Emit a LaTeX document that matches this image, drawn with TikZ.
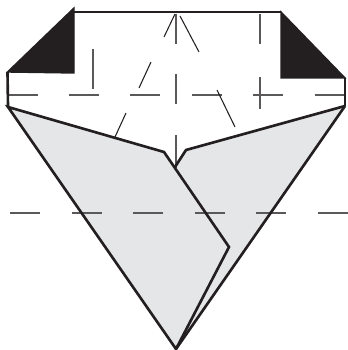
\documentclass[tikz,border=0pt]{standalone}
\usepackage{tikz}
\definecolor{ink}{RGB}{35,31,32}
\definecolor{paper}{RGB}{229,230,232}
\definecolor{crease}{RGB}{90,88,89}
\tikzset{
  edge/.style={draw=ink,line width=1.5pt,line join=miter},
  corner/.style={draw=ink,fill=ink,line width=0.8pt},
  fold/.style={draw=crease,line width=0.75pt},
  foldd/.style={draw=ink,line width=0.6pt}
}
\begin{document}
\begin{tikzpicture}[x=0.02cm,y=-0.02cm]
\useasboundingbox (0,0) rectangle (347,350);
\coordinate (tl) at (74,12);
\coordinate (tr) at (281,12);
\coordinate (ml) at (7.5,72);
\coordinate (mr) at (345,78);
\coordinate (bl) at (8,107);
\coordinate (br) at (345,106);
\coordinate (tip) at (176,349);
\coordinate (nl) at (164,152);
\coordinate (nr) at (186,150);
\coordinate (nc) at (175,167);
\coordinate (pk) at (229,247);
% horizontal creases
\foreach \x in {8,69,130,192,253,315} \draw[fold] (\x,95) -- ++(30,0);
% gray flaps
\fill[paper] (bl) -- (nl) -- (nc) -- (nr) -- (br) -- (tip) -- cycle;
\foreach \x in {10,72,133,195,256,318} \draw[fold] (\x,213) -- ++(30,0);
% vertical creases
\foreach \y in {14,74} \draw[fold] (176,\y) -- ++(0,30);
\draw[fold] (176,135) -- (176,168);
\draw[fold] (93,49) -- (93,89);
\draw[fold] (260,14) -- (260,44);
\draw[fold] (260,77) -- (260,109);
% slanted creases
\draw[foldd] (175,14) -- (164,37);
\draw[foldd] (151,62) -- (139,88);
\draw[foldd] (126,113) -- (115,137);
\draw[foldd] (180,16) -- (199,52);
\draw[foldd] (217,90) -- (235,127);
% outline
\draw[edge] (tl) -- (tr);
\draw[edge] (ml) -- (bl);
\draw[edge] (mr) -- (br);
\draw[edge] (bl) -- (nl) -- (pk) -- (tip) -- cycle;
\draw[edge] (br) -- (nr) -- (nc);
\draw[edge] (br) -- (tip);
% black corners
\draw[corner] (74,8) -- (ml) -- (74,73) -- cycle;
\draw[corner] (tr) -- (mr) -- (281,78) -- cycle;
\end{tikzpicture}
\end{document}
